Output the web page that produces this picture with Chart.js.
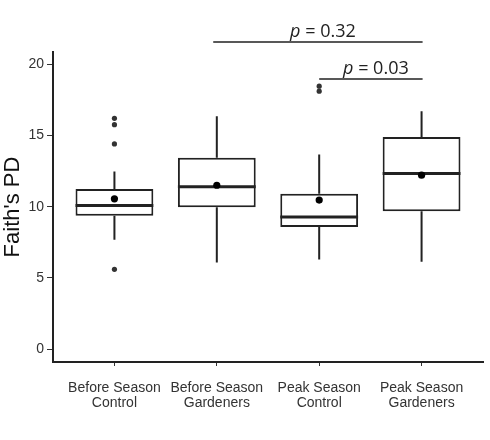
<!DOCTYPE html>
<html>
<head>
<meta charset="utf-8">
<script src="https://cdn.jsdelivr.net/npm/chart.js@4.4.1/dist/chart.umd.min.js"></script>
<style>
  html, body { margin: 0; padding: 0; background: #fff; }
  #wrap { width: 490px; height: 440px; }
</style>
</head>
<body>
<div id="wrap"><canvas id="chart"></canvas></div>
<script>
// groups on the x axis (two-line labels)
const categories = [
    ["Before Season", "Control"],
    ["Before Season", "Gardeners"],
    ["Peak Season", "Control"],
    ["Peak Season", "Gardeners"]
];

// box plot summary per group (Faith's PD)
const lowerWhisker = [7.67, 6.08, 6.29, 6.13];
const q1 = [9.36, 9.96, 8.58, 9.68];
const median = [10.08, 11.39, 9.28, 12.33];
const q3 = [11.23, 13.43, 10.9, 14.88];
const upperWhisker = [12.46, 16.35, 13.66, 16.7];
const means = [10.55, 11.5, 10.46, 12.21];
const outliers = [[16.2, 15.75, 14.4, 5.6], [], [18.45, 18.1], []];

// y ticks
const yTicks = [0, 5, 10, 15, 20];

// significance brackets
const sigStart = [1.965, 3.0];
const sigEnd = [4.01, 4.01];
const sigLevel = [21.55, 18.95];
const sigP = ["0.32", "0.03"];

const boxHalf = 0.38;
const ink = "#222";

// build the line data (null breaks segments)
let whiskerData = [];
let medianData = [];
categories.forEach((c, i) => {
    let x = i + 1;
    whiskerData.push({x: x, y: q3[i]}, {x: x, y: upperWhisker[i]}, {x: x, y: null});
    whiskerData.push({x: x, y: q1[i]}, {x: x, y: lowerWhisker[i]}, {x: x, y: null});
    medianData.push({x: x - boxHalf, y: median[i]}, {x: x + boxHalf, y: median[i]}, {x: x, y: null});
});

let outlierData = [];
outliers.forEach((arr, i) => arr.forEach(v => outlierData.push({x: i + 1, y: v})));

let sigData = [];
sigP.forEach((p, i) => {
    sigData.push({x: sigStart[i], y: sigLevel[i]}, {x: sigEnd[i], y: sigLevel[i]}, {x: sigEnd[i], y: null});
});

// draws the "p = ..." labels above the brackets
const pLabels = {
    id: "pLabels",
    afterDraw(chart) {
        const ctx = chart.ctx;
        const xs = chart.scales.x, ys = chart.scales.y;
        ctx.save();
        ctx.fillStyle = ink;
        ctx.textBaseline = "alphabetic";
        sigP.forEach((p, i) => {
            let cx = (xs.getPixelForValue(sigStart[i]) + xs.getPixelForValue(sigEnd[i])) / 2 + 5;
            let cy = ys.getPixelForValue(sigLevel[i]) - 5;
            let italic = "italic 18px 'Open Sans'";
            let normal = "18px 'Open Sans'";
            ctx.font = italic;
            let w1 = ctx.measureText("p").width;
            ctx.font = normal;
            let rest = " = " + p;
            let w2 = ctx.measureText(rest).width;
            let x0 = cx - (w1 + w2) / 2;
            ctx.font = italic;
            ctx.textAlign = "left";
            ctx.fillText("p", x0, cy);
            ctx.font = normal;
            ctx.fillText(rest, x0 + w1, cy);
        });
        ctx.restore();
    }
};

new Chart(document.getElementById("chart"), {
    data: {
        datasets: [
            {
                type: "bar",
                data: categories.map((c, i) => ({x: i + 1, y: [q1[i], q3[i]]})),
                backgroundColor: "#fff",
                borderColor: ink,
                borderWidth: 2,
                borderSkipped: false,
                barPercentage: 0.76,
                categoryPercentage: 1,
                order: 3
            },
            {
                type: "line",
                data: whiskerData,
                borderColor: ink,
                borderWidth: 2,
                pointRadius: 0,
                spanGaps: false,
                order: 4
            },
            {
                type: "line",
                data: medianData,
                borderColor: ink,
                borderWidth: 3,
                pointRadius: 0,
                spanGaps: false,
                order: 2
            },
            {
                type: "scatter",
                data: outlierData,
                backgroundColor: "#333",
                borderWidth: 0,
                pointRadius: 2.6,
                order: 1
            },
            {
                type: "scatter",
                data: means.map((m, i) => ({x: i + 1, y: m})),
                backgroundColor: "#000",
                borderWidth: 0,
                pointRadius: 3.6,
                order: 0
            },
            {
                type: "line",
                data: sigData,
                borderColor: ink,
                borderWidth: 1.5,
                pointRadius: 0,
                spanGaps: false,
                clip: false,
                order: 0
            }
        ]
    },
    options: {
        responsive: true,
        maintainAspectRatio: false,
        animation: false,
        layout: { padding: { left: 0, right: 7, top: 52, bottom: 0 } },
        plugins: {
            legend: { display: false },
            tooltip: { enabled: false }
        },
        scales: {
            x: {
                type: "linear",
                min: 0.4,
                max: 4.6,
                offset: false,
                afterBuildTicks: s => { s.ticks = categories.map((c, i) => ({value: i + 1})); },
                afterFit: s => { s.height = 78; },
                ticks: {
                    callback: v => categories[v - 1],
                    font: { family: "'Liberation Sans'", size: 14, lineHeight: 1.1 },
                    color: "#333",
                    padding: 14,
                    maxRotation: 0,
                    autoSkip: false
                },
                grid: { display: true, offset: false, drawOnChartArea: false, drawTicks: true, tickLength: 4, color: "#333" },
                border: { display: true, color: ink, width: 2 }
            },
            y: {
                type: "linear",
                min: -0.9,
                max: 20.85,
                afterBuildTicks: s => { s.ticks = yTicks.map(v => ({value: v})); },
                afterFit: s => { s.width = 53; },
                ticks: {
                    font: { family: "'Liberation Sans'", size: 14 },
                    color: "#333",
                    padding: 3
                },
                grid: { display: true, drawOnChartArea: false, drawTicks: true, tickLength: 6, color: "#333" },
                border: { display: true, color: ink, width: 2 },
                title: {
                    display: true,
                    text: "Faith's PD",
                    font: { family: "'Liberation Sans'", size: 22 },
                    color: "#111",
                    padding: { top: 0, bottom: 0 }
                }
            }
        }
    },
    plugins: [pLabels]
});
</script>
</body>
</html>
